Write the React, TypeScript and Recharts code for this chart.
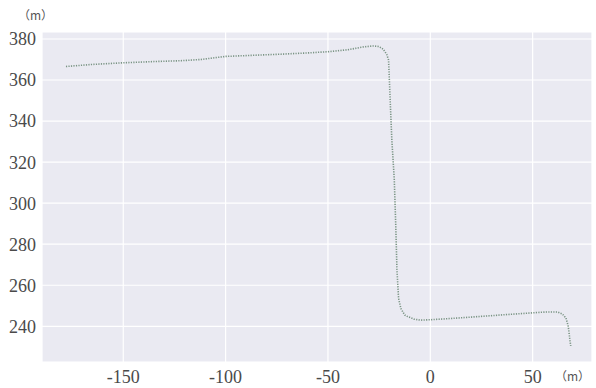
import React from 'react';
import { LineChart, Line, XAxis, YAxis, CartesianGrid } from 'recharts';

const xValues = [
  -178, -165, -150, -135, -122, -112, -105, -100, -90, -75, -60, -50, -40, -33, -28, -25, -23,
  -21.3, -20.4, -19.6, -18.8, -17.6, -16.9, -16.3, -15.5, -14.4, -12.5, -11.4, -8, -4.9, 0, 10,
  24.5, 40, 49, 57, 62, 64.5, 66.3, 67.4, 68, 68.6,
];
const yValues = [
  366.6, 367.6, 368.4, 369.0, 369.4, 370.0, 370.9, 371.5, 371.9, 372.5, 373.2, 373.8, 374.8,
  376.1, 376.6, 376.3, 375.0, 372.5, 369.8, 350, 331, 311.7, 290, 268, 253.6, 248.7, 245.5,
  244.9, 243.5, 243.0, 243.2, 243.8, 244.8, 245.9, 246.5, 247.0, 247.0, 246.0, 244, 240, 235,
  230.4,
];
const xTicks = [-150, -100, -50, 0, 50];
const yTicks = [240, 260, 280, 300, 320, 340, 360, 380];

const track = xValues.map((x, i) => ({ x, y: yValues[i] }));

const tickStyle = { fontFamily: '"Liberation Serif", serif', fontSize: 18, fill: '#4a4a4a' };
const unitStyle: React.CSSProperties = {
  position: 'absolute',
  fontFamily: '"Noto Sans CJK SC", sans-serif',
  fontSize: 12,
  color: '#555',
  whiteSpace: 'nowrap',
};

export default function App() {
  return (
    <div style={{ position: 'absolute', left: 0, top: 0, width: 596, height: 388, background: '#fff' }}>
      <LineChart width={596} height={388} data={track} margin={{ top: 32, right: 4, bottom: 0, left: 0 }}>
        <CartesianGrid fill="#eaeaf2" stroke="#ffffff" strokeWidth={1.2} />
        <XAxis
          type="number"
          dataKey="x"
          domain={[-189.7, 79]}
          ticks={xTicks}
          axisLine={false}
          tickLine={false}
          height={26}
          tick={tickStyle}
          tickMargin={2}
        />
        <YAxis
          type="number"
          dataKey="y"
          domain={[222.6, 383.4]}
          ticks={yTicks}
          axisLine={false}
          tickLine={false}
          width={42}
          tick={tickStyle}
          tickMargin={0}
        />
        <Line
          type="linear"
          dataKey="y"
          stroke="#7a9484"
          strokeWidth={1.6}
          strokeDasharray="1.2 1.3"
          dot={false}
          isAnimationActive={false}
        />
      </LineChart>
      <div style={{ ...unitStyle, left: 18, top: 6 }}>（m）</div>
      <div style={{ ...unitStyle, left: 555, top: 367 }}>（m）</div>
    </div>
  );
}
